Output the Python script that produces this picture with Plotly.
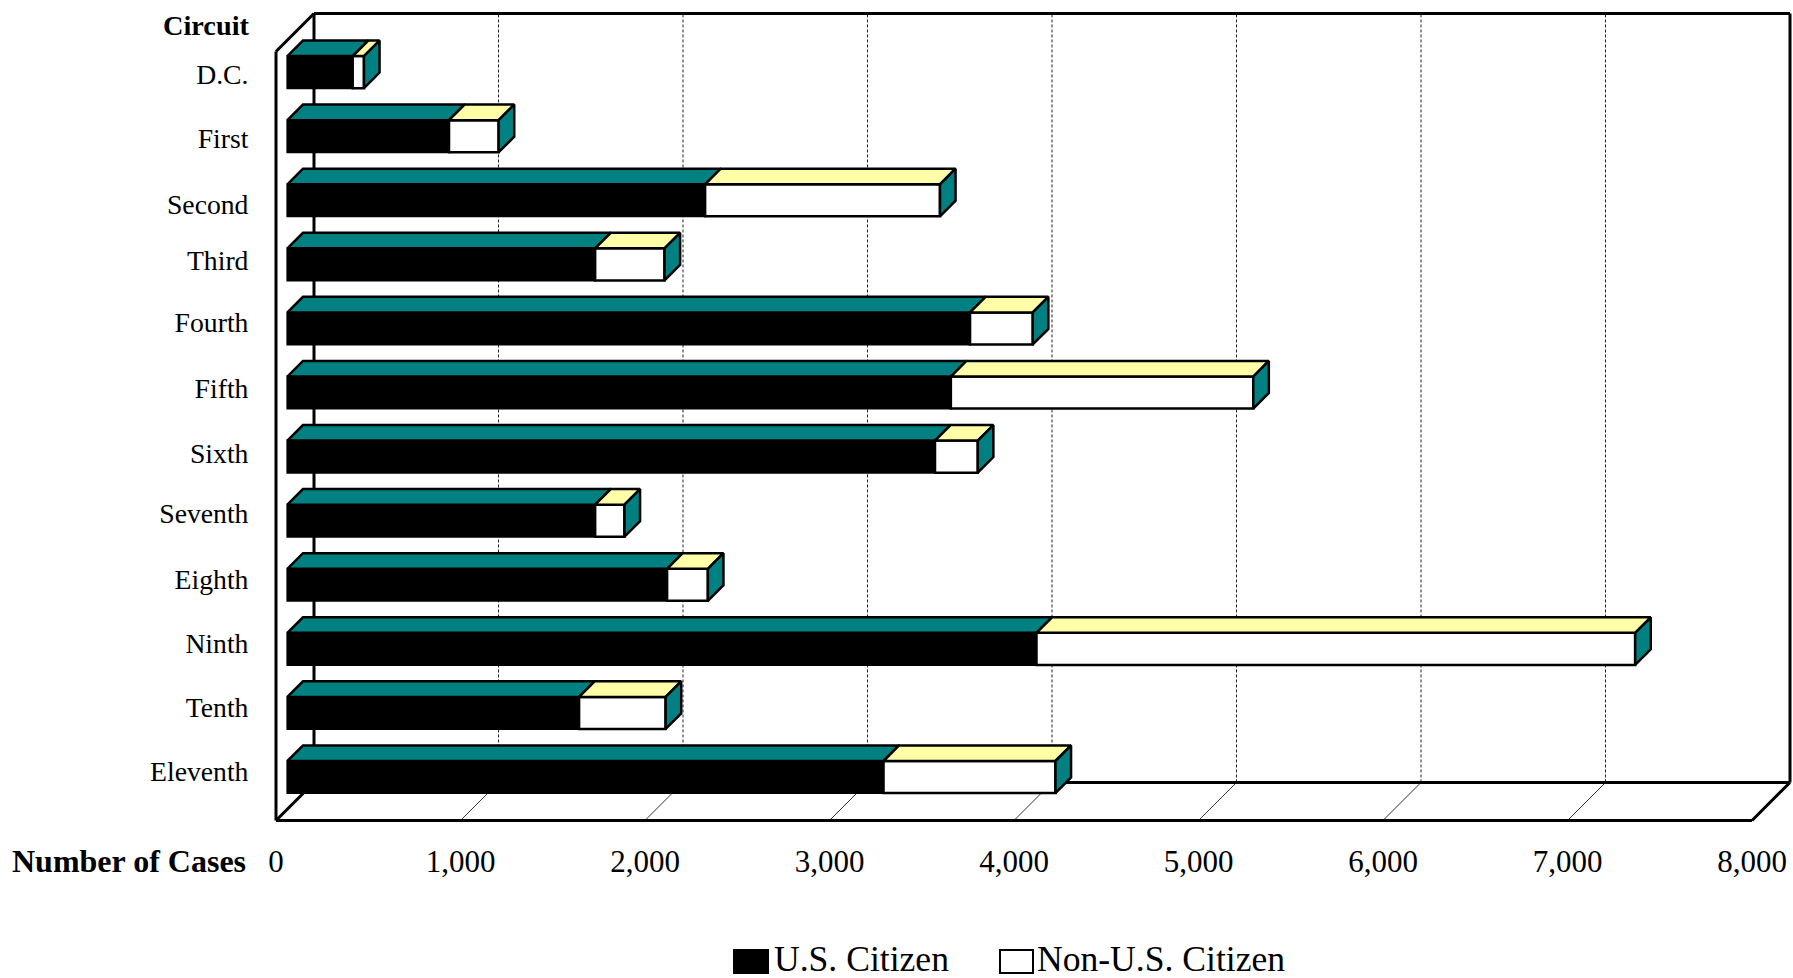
import plotly.graph_objects as go

# ---------- data ----------
circuits = ["D.C.", "First", "Second", "Third", "Fourth", "Fifth", "Sixth",
            "Seventh", "Eighth", "Ninth", "Tenth", "Eleventh"]
us_citizen = [354, 876, 2264, 1668, 3700, 3596, 3510, 1668, 2058, 4060, 1581, 3231]
non_us_citizen = [61, 269, 1273, 376, 340, 1639, 232, 159, 221, 3245, 469, 932]
x_ticks = [0, 1000, 2000, 3000, 4000, 5000, 6000, 7000, 8000]
x_tick_labels = ["0", "1,000", "2,000", "3,000", "4,000", "5,000", "6,000", "7,000", "8,000"]

# ---------- style / projection ----------
W, H = 1793, 978
FONT = "Liberation Serif"
TEAL, YELLOW = "#008080", "#FFFFA8"
PX_PER_VALUE = 0.1845
PX_PER_CAT = 64.08
X0_PX, TOP_PX = 276.0, 51.5        # front-plane origin
DEPTH_PX = 38.0
DX = DEPTH_PX / PX_PER_VALUE       # depth vector, in axis units
DY = -DEPTH_PX / PX_PER_CAT
BAR_FRONT, BAR_BACK = 0.30, 0.71   # bar position within the depth of the box
HALF = 0.25
N = len(circuits)
X_MAX = x_ticks[-1]
label_nudge_px = [2, 2, 4, -4, -6, -4, -3, -7, -5, -6, -6, -6]

plot_l, plot_t, plot_r, plot_b = 272.0, 10.0, 1793.0, 825.0
xr = [(plot_l - X0_PX) / PX_PER_VALUE, (plot_r - X0_PX) / PX_PER_VALUE]
def y_at(px):
    return -0.5 + (px - TOP_PX) / PX_PER_CAT
yr = [y_at(plot_b), y_at(plot_t)]
Y_FLOOR, Y_CEIL = N - 0.5, -0.5

def pt(v, cat, depth):
    return v + depth * DX, cat + depth * DY

def px_x(p):
    return (p - plot_l) / (plot_r - plot_l)
def px_y(p):
    return (plot_b - p) / (plot_b - plot_t)

def poly(corners):
    xs, ys = zip(*corners)
    return list(xs) + [xs[0], None], list(ys) + [ys[0], None]

fig = go.Figure()

# ---------- front faces of the bars ----------
front_y = [i + BAR_FRONT * DY for i in range(N)]
off = BAR_FRONT * DX
fig.add_trace(go.Bar(name="U.S. Citizen", orientation="h", y=front_y, x=us_citizen,
                     base=[off] * N, width=2 * HALF,
                     marker=dict(color="black", line=dict(color="black", width=2)),
                     showlegend=False, hoverinfo="x"))
fig.add_trace(go.Bar(name="Non-U.S. Citizen", orientation="h", y=front_y, x=non_us_citizen,
                     base=[off + u for u in us_citizen], width=2 * HALF,
                     marker=dict(color="white", line=dict(color="black", width=2.5)),
                     showlegend=False, hoverinfo="x"))

# ---------- top and end faces ----------
def top_face(i, a, b):
    c = i - HALF
    return poly([pt(a, c, BAR_FRONT), pt(b, c, BAR_FRONT), pt(b, c, BAR_BACK), pt(a, c, BAR_BACK)])

def end_face(i, b):
    return poly([pt(b, i - HALF, BAR_FRONT), pt(b, i - HALF, BAR_BACK),
                 pt(b, i + HALF, BAR_BACK), pt(b, i + HALF, BAR_FRONT)])

def faces(parts, color):
    xs, ys = [], []
    for px_, py_ in parts:
        xs += px_
        ys += py_
    fig.add_trace(go.Scatter(x=xs, y=ys, mode="lines", fill="toself", fillcolor=color,
                             line=dict(color="black", width=2.5), showlegend=False,
                             hoverinfo="skip"))

faces([top_face(i, 0, u) for i, u in enumerate(us_citizen)], TEAL)
faces([top_face(i, u, u + n) for i, (u, n) in enumerate(zip(us_citizen, non_us_citizen))], YELLOW)
faces([end_face(i, u + n) for i, (u, n) in enumerate(zip(us_citizen, non_us_citizen))], TEAL)

# ---------- box: walls, floor, gridlines ----------
shapes = []
def seg(a, b, width, dash="solid", color="black"):
    shapes.append(dict(type="line", xref="x", yref="y", layer="below",
                       x0=a[0], y0=a[1], x1=b[0], y1=b[1],
                       line=dict(color=color, width=width, dash=dash)))

for t in x_ticks[1:-1]:
    seg(pt(t, Y_FLOOR, 1), pt(t, Y_CEIL, 1), 1, dash="3px,2px", color="#222222")
    seg(pt(t, Y_FLOOR, 0), pt(t, Y_FLOOR, 1), 1, color="#333333")

frame = 3
seg(pt(0, Y_FLOOR, 0), pt(X_MAX, Y_FLOOR, 0), frame)
seg(pt(X_MAX, Y_FLOOR, 0), pt(X_MAX, Y_FLOOR, 1), frame)
seg(pt(0, Y_FLOOR, 1), pt(X_MAX, Y_FLOOR, 1), frame)
seg(pt(X_MAX, Y_FLOOR, 1), pt(X_MAX, Y_CEIL, 1), frame)
seg(pt(0, Y_CEIL, 1), pt(X_MAX, Y_CEIL, 1), frame)
seg(pt(0, Y_FLOOR, 1), pt(0, Y_CEIL, 1), frame)
seg(pt(0, Y_FLOOR, 0), pt(0, Y_CEIL, 0), frame)
seg(pt(0, Y_CEIL, 0), pt(0, Y_CEIL, 1), frame)
seg(pt(0, Y_FLOOR, 0), pt(0, Y_FLOOR, 1), frame)

# ---------- legend ----------
def legend_box(x0, x1, fill):
    shapes.append(dict(type="rect", xref="paper", yref="paper",
                       x0=px_x(x0), x1=px_x(x1), y0=px_y(973), y1=px_y(950),
                       fillcolor=fill, line=dict(color="black", width=2)))
legend_box(734, 768, "black")
legend_box(1000, 1033, "white")

def text(x, y, s, size, anchor="left", bold=False):
    return dict(xref="paper", yref="paper", x=px_x(x), y=px_y(y), text=f"<b>{s}</b>" if bold else s,
                showarrow=False, xanchor=anchor, yanchor="middle",
                font=dict(family=FONT, size=size, color="black"))

annotations = [
    text(252, 25, "Circuit", 28.3, "right", True),
    text(248, 861, "Number of Cases", 32, "right", True),
    text(772, 959, "U.S. Citizen", 35.6),
    text(1035, 959, "Non-U.S. Citizen", 35.6),
]

fig.update_layout(
    width=W, height=H, autosize=False,
    margin=dict(l=plot_l, r=W - plot_r, t=plot_t, b=H - plot_b, pad=0),
    paper_bgcolor="white", plot_bgcolor="white",
    barmode="overlay", showlegend=False,
    shapes=shapes, annotations=annotations,
    xaxis=dict(range=xr, showgrid=False, zeroline=False, showline=False,
               tickmode="array", tickvals=x_ticks, ticktext=x_tick_labels,
               ticks="outside", ticklen=9, tickcolor="rgba(0,0,0,0)",
               tickfont=dict(family=FONT, size=31, color="black")),
    yaxis=dict(range=yr, showgrid=False, zeroline=False, showline=False,
               tickmode="array",
               tickvals=[y + n / PX_PER_CAT for y, n in zip(front_y, label_nudge_px)],
               ticktext=circuits,
               ticks="outside", ticklen=17, tickcolor="rgba(0,0,0,0)",
               tickfont=dict(family=FONT, size=27.7, color="black")),
)

fig.write_html("out.html", post_script="document.body.style.margin='0';document.body.style.overflow='hidden';",
               config=dict(displayModeBar=False))
